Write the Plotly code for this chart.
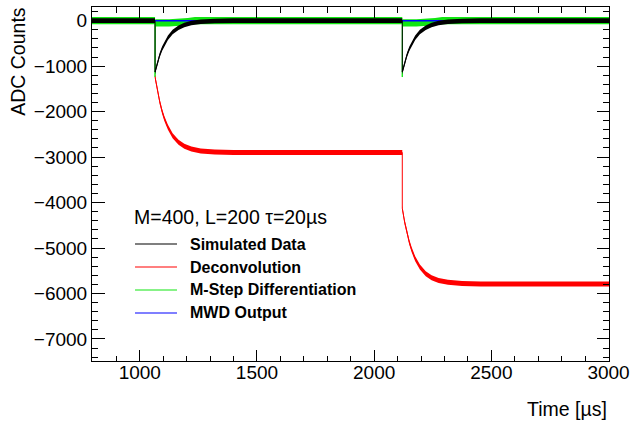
import numpy as np
import plotly.graph_objects as go

# ---- waveform samples: time [µs] and ADC counts ----
sim_t = [796, 1065, 1065, 1075, 1085, 1095, 1105, 1120, 1140, 1165, 1190, 1220, 1260, 1320, 1400,
         2120, 2120, 2130, 2140, 2150, 2160, 2175, 2195, 2220, 2245, 2275, 2315, 2375, 2455, 3002]
sim_v = [0, 0, -1130, -925, -755, -620, -510, -375, -250, -155, -95, -50, -25, -7, 0,
         0, -1130, -925, -755, -620, -510, -375, -250, -155, -95, -50, -25, -7, 0, 0]

# deconvolved trace, shown from the first pulse onwards
dec_t = [1065, 1075, 1085, 1095, 1105, 1120, 1140, 1165, 1190, 1220, 1260, 1320, 1400,
         2120, 2120, 2130, 2140, 2150, 2160, 2175, 2195, 2220, 2245, 2275, 2315, 2375, 2455, 3002]
dec_v = [-1240, -1540, -1785, -1990, -2155, -2345, -2530, -2675, -2765, -2825, -2865, -2890, -2900,
         -2900, -4125, -4430, -4675, -4875, -5040, -5235, -5420, -5565, -5655, -5715, -5755, -5780, -5790, -5790]

msd_t = [796, 1065, 1065, 1066, 1125, 1170, 1205, 1235,
         2120, 2120, 2121, 2180, 2225, 2260, 2290, 3002]
msd_v = [0, 0, -1240, -50, -50, -40, -20, 0,
         0, -1240, -50, -50, -40, -20, 0, 0]

mwd_t = [796, 1090, 1100, 1135, 1150, 2145, 2155, 2200, 2220, 3002]
mwd_v = [0, 0, -12, -12, 0, 0, -12, -12, 0, 0]

# spread of the sample noise around each trace [ADC counts]
sim_noise = 50
dec_noise = 55
msd_noise = 80

series_names = ["Simulated Data", "Deconvolution", "M-Step Differentiation", "MWD Output"]
series_colors = ["#000000", "#ff0000", "#11e611", "#0000ff"]
legend_header = "M=400, L=200 τ=20µs"

FONT = "Liberation Sans, Arial, sans-serif"

fig = go.Figure()


def add_noisy(t, v, noise, color):
    v = np.asarray(v, dtype=float)
    fig.add_trace(go.Scatter(x=t, y=v - noise, mode="lines", line=dict(width=0, color=color),
                             showlegend=False, hoverinfo="skip"))
    fig.add_trace(go.Scatter(x=t, y=v + noise, mode="lines", line=dict(width=0, color=color),
                             fill="tonexty", fillcolor=color, showlegend=False, hoverinfo="skip"))
    fig.add_trace(go.Scatter(x=t, y=v, mode="lines", line=dict(width=1, color=color),
                             showlegend=False, hoverinfo="skip"))


add_noisy(msd_t, msd_v, msd_noise, series_colors[2])
add_noisy(dec_t, dec_v, dec_noise, series_colors[1])
fig.add_trace(go.Scatter(x=mwd_t, y=mwd_v, mode="lines", line=dict(width=1.5, color=series_colors[3]),
                         showlegend=False, hoverinfo="skip"))
add_noisy(sim_t, sim_v, sim_noise, series_colors[0])

axis_common = dict(
    showline=True, linecolor="black", linewidth=1, mirror="allticks",
    ticks="inside", tickcolor="black", tickwidth=1,
    showgrid=False, zeroline=False, automargin=False,
    tickfont=dict(family=FONT, size=19, color="black"),
)

fig.update_xaxes(range=[796, 3002], tickmode="linear", tick0=1000, dtick=500, ticklen=11,
                 ticklabelstandoff=-6,
                 minor=dict(ticks="inside", ticklen=5.5, dtick=100, tick0=0, tickcolor="black"),
                 **axis_common)
fig.update_yaxes(range=[-7485, 300], tickmode="linear", tick0=0, dtick=1000, ticklen=12.5,
                 minor=dict(ticks="inside", ticklen=6, dtick=200, tick0=0, tickcolor="black"),
                 **axis_common)

# legend box drawn in plot-area (paper) coordinates
leg_key_x0, leg_key_x1, leg_text_x = 0.0832, 0.1644, 0.1856
leg_rows_y = [0.3305, 0.2655, 0.2006, 0.1356]

annotations = [
    dict(text="ADC Counts", textangle=-90, xref="paper", yref="paper",
         x=-0.143, y=1.005, xanchor="center", yanchor="top", showarrow=False,
         font=dict(family=FONT, size=19.5, color="black")),
    dict(text="Time [µs]", xref="paper", yref="paper",
         x=1.0, y=-0.135, xanchor="right", yanchor="middle", showarrow=False,
         font=dict(family=FONT, size=19.5, color="black")),
    dict(text=legend_header, xref="paper", yref="paper",
         x=0.0774, y=0.4068, xanchor="left", yanchor="middle", showarrow=False,
         font=dict(family=FONT, size=19.5, color="black")),
]
shapes = []
for name, col, ly in zip(series_names, series_colors, leg_rows_y):
    annotations.append(dict(text=name, xref="paper", yref="paper", x=leg_text_x, y=ly,
                            xanchor="left", yanchor="middle", showarrow=False,
                            font=dict(family=FONT, size=16, color="black", weight="bold")))
    shapes.append(dict(type="line", xref="paper", yref="paper",
                       x0=leg_key_x0, x1=leg_key_x1, y0=ly, y1=ly,
                       line=dict(color=col, width=1.2)))

fig.update_layout(
    width=630, height=422,
    margin=dict(l=92, r=21, t=7, b=61),
    paper_bgcolor="white", plot_bgcolor="white",
    showlegend=False,
    annotations=annotations,
    shapes=shapes,
)

fig.write_html("out.html")
